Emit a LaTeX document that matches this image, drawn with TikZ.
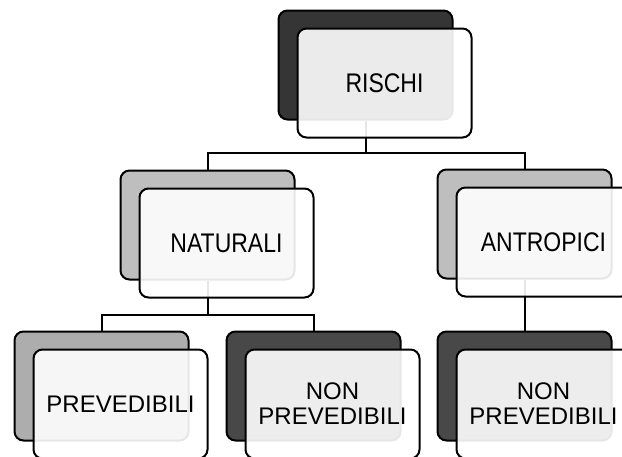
\documentclass[tikz,border=0pt]{standalone}
\usepackage{fontspec}
\usepackage{graphicx}
\setmainfont{Liberation Sans}
% upper-level labels are set slightly taller than wide
\newcommand\tallLabel[1]{\scalebox{1}[1.17]{#1}}
\begin{document}
\begin{tikzpicture}[x=1pt,y=-1pt,
  card/.style={rounded corners=9pt, line width=2pt, draw=black,
    minimum width=174pt, minimum height=109pt, inner sep=0pt},
  backcard/.style={card, fill=#1},
  frontcard/.style={card, fill=white, fill opacity=0.9, text opacity=1,
    align=center, font=\fontsize{24}{25}\selectfont},
  uppercard/.style={frontcard, font=\fontsize{23}{25}\selectfont},
  link/.style={line width=2pt, draw=black}]
\useasboundingbox (0,0) rectangle (622,456);
\clip (0,0) rectangle (622,456);
\definecolor{darkA}{HTML}{353535}
\definecolor{darkB}{HTML}{484848}
\definecolor{midA}{HTML}{BEBEBE}
\definecolor{midB}{HTML}{ADADAD}

% shadow cards
\node[backcard=darkA] (rB) at (365.5,65) {};
\node[backcard=midA]  (nB) at (207.5,225) {};
\node[backcard=midA]  (aB) at (524.5,224) {};
\node[backcard=midB]  (pB) at (101.5,386) {};
\node[backcard=darkB] (mB) at (313.5,386) {};
\node[backcard=darkB] (qB) at (524.5,386) {};

% tree connectors
\coordinate (j1) at (365.5,153);
\coordinate (j2) at (207.5,315);
\draw[link] (rB.south) -- (j1) -| (nB.north);
\draw[link] (j1) -| (aB.north);
\draw[link] (nB.south) -- (j2) -| (pB.north);
\draw[link] (j2) -| (mB.north);
\draw[link] (aB.south) -- (qB.north);

% front cards with labels
\node[uppercard] (rF) at (384.5,83) {\tallLabel{RISCHI}};
\node[uppercard] (nF) at (226.5,243) {\tallLabel{NATURALI}};
\node[uppercard] (aF) at (543.5,242) {\tallLabel{ANTROPICI}};
\node[frontcard] (pF) at (120.5,404) {PREVEDIBILI};
\node[frontcard] (mF) at (332.5,404) {NON\\PREVEDIBILI};
\node[frontcard] (qF) at (543.5,404) {NON\\PREVEDIBILI};
\end{tikzpicture}
\end{document}
